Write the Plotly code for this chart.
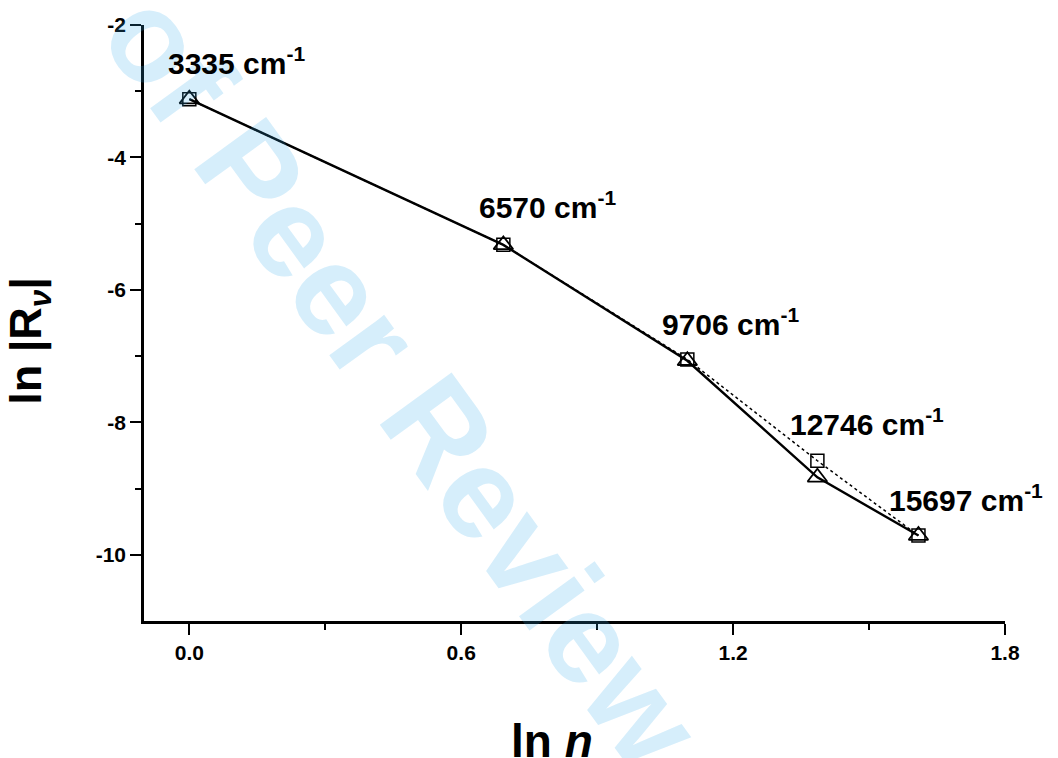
import numpy as np
import plotly.graph_objects as go

ln_n = [0.0, 0.693, 1.099, 1.386, 1.609]
ln_R_triangle = [-3.12, -5.32, -7.07, -8.83, -9.71]
ln_R_square = [-3.12, -5.32, -7.05, -8.58, -9.71]
wavenumbers = ["3335", "6570", "9706", "12746", "15697"]
label_x = [0.105, 0.79, 1.195, 1.495, 1.715]
label_y = [-2.55, -4.72, -6.48, -8.0, -9.15]
x_ticks = [0.0, 0.6, 1.2, 1.8]
x_minor = [0.3, 0.9, 1.5]
y_ticks = [-2, -4, -6, -8, -10]
y_minor = [-3, -5, -7, -9]

FONT = "Liberation Sans, Arial, sans-serif"

fig = go.Figure()
fig.add_trace(go.Scatter(
    x=ln_n, y=ln_R_square, mode="lines+markers",
    line=dict(color="black", width=1.5, dash="dot"),
    marker=dict(symbol="square-open", size=13, color="black", line=dict(width=1.5)),
    showlegend=False))
fig.add_trace(go.Scatter(
    x=ln_n, y=ln_R_triangle, mode="lines+markers",
    line=dict(color="black", width=2.4),
    marker=dict(symbol="triangle-up-open", size=17, color="black", line=dict(width=1.8)),
    showlegend=False))

# watermark (translucent so the black marks beneath stay visible)
fig.add_annotation(text="<b>of Peer Review</b>", xref="paper", yref="paper",
                   x=0.301, y=0.405, xanchor="center", yanchor="middle",
                   showarrow=False, textangle=54,
                   font=dict(family=FONT, size=129, color="rgba(50,170,235,0.2)"))

for lx, ly, w in zip(label_x, label_y, wavenumbers):
    fig.add_annotation(x=lx, y=ly, text=f"<b>{w} cm<sup>-1</sup></b>", showarrow=False,
                       font=dict(family=FONT, size=30, color="black"))

# axis titles
fig.add_annotation(text="<b>ln <i>n</i></b>", xref="paper", yref="paper",
                   x=0.474, y=-0.155, xanchor="center", yanchor="top", showarrow=False,
                   font=dict(family=FONT, size=46, color="black"))
fig.add_annotation(text="<b>ln |R<sub><i>ν</i></sub>|</b>", xref="paper", yref="paper",
                   x=-0.1336, y=0.47, xanchor="center", yanchor="middle", showarrow=False,
                   textangle=-90, font=dict(family=FONT, size=45, color="black"))

fig.update_xaxes(range=[-0.1, 1.8], showline=True, linecolor="black", linewidth=2.5,
                 ticks="outside", ticklen=11, tickwidth=2, tickcolor="black",
                 tickvals=x_ticks, ticktext=[f"<b>{v:.1f}</b>" for v in x_ticks],
                 minor=dict(tickvals=x_minor, ticks="outside", ticklen=6, tickwidth=2, tickcolor="black"),
                 showgrid=False, zeroline=False, mirror=False,
                 tickfont=dict(family=FONT, size=21, color="black"))
fig.update_yaxes(range=[-11, -2], showline=True, linecolor="black", linewidth=2.5,
                 ticks="outside", ticklen=11, tickwidth=2, tickcolor="black",
                 tickvals=y_ticks, ticktext=[f"<b>{v}</b>" for v in y_ticks],
                 minor=dict(tickvals=y_minor, ticks="outside", ticklen=6, tickwidth=2, tickcolor="black"),
                 showgrid=False, zeroline=False,
                 tickfont=dict(family=FONT, size=21, color="black"))

fig.update_layout(width=1058, height=758, margin=dict(l=144, r=53, t=25, b=137),
                  plot_bgcolor="white", paper_bgcolor="white")
fig.write_html("out.html")
